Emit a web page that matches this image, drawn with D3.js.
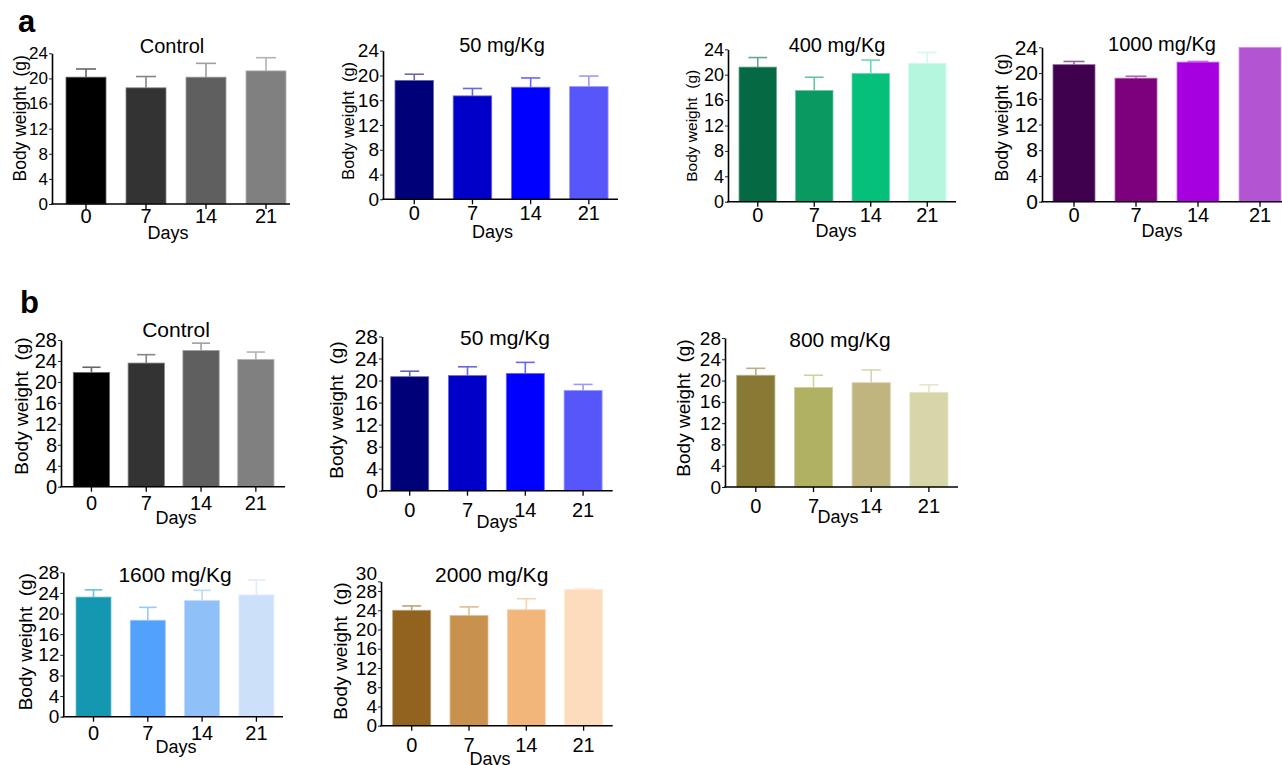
<!DOCTYPE html>
<html>
<head>
<meta charset="utf-8">
<script src="https://cdn.jsdelivr.net/npm/d3@7/dist/d3.min.js"></script>
<style>
  html, body { margin: 0; padding: 0; background: #fff; }
  svg { display: block; font-family: "Liberation Sans", Arial, sans-serif; }
</style>
</head>
<body>
<script>
// ---------------- DATA ----------------
const days = ["0", "7", "14", "21"];
const titles = ["Control", "50 mg/Kg", "400 mg/Kg", "1000 mg/Kg",
                "Control", "50 mg/Kg", "800 mg/Kg", "1600 mg/Kg", "2000 mg/Kg"];

// study a (means / SD, g)
const aControlMean = [20.2, 18.5, 20.2, 21.2];
const aControlSD   = [1.3, 1.8, 2.2, 2.1];
const a50Mean      = [19.2, 16.7, 18.1, 18.2];
const a50SD        = [1.0, 1.2, 1.5, 1.7];
const a400Mean     = [21.2, 17.5, 20.2, 21.8];
const a400SD       = [1.5, 2.1, 2.1, 1.7];
const a1000Mean    = [21.3, 19.2, 21.7, 24.0];
const a1000SD      = [0.5, 0.3, 0.1, 0.0];

// study b
const bControlMean = [21.8, 23.6, 26.0, 24.3];
const bControlSD   = [1.0, 1.6, 1.4, 1.4];
const b50Mean      = [20.7, 20.9, 21.3, 18.2];
const b50SD        = [1.0, 1.6, 2.0, 1.1];
const b800Mean     = [21.0, 18.7, 19.6, 17.8];
const b800SD       = [1.3, 2.3, 2.4, 1.4];
const b1600Mean    = [23.2, 18.7, 22.5, 23.6];
const b1600SD      = [1.4, 2.5, 2.0, 2.9];
const b2000Mean    = [24.0, 22.9, 24.1, 28.3];
const b2000SD      = [0.9, 1.8, 2.3, 0.2];

// y axis tick labels
const ticks24 = [0, 4, 8, 12, 16, 20, 24];
const ticks28 = [0, 4, 8, 12, 16, 20, 24, 28];
const ticks30 = [0, 4, 8, 12, 16, 20, 24, 28, 30];
const yMaxes  = [24, 24, 24, 24, 28, 28, 28, 28, 30];

// colours
const colControl = ["#000000", "#333333", "#5f5f5f", "#808080"];
const colBlue    = ["#000078", "#0000c8", "#0000ff", "#5656fb"];
const colGreen   = ["#056a43", "#099a61", "#04c07a", "#b5f7de"];
const colPurple  = ["#3f004e", "#7d007c", "#a700e0", "#b354d3"];
const colOlive   = ["#887a35", "#b0b162", "#c0b57e", "#d7d6a9"];
const colSky     = ["#1497b1", "#52a2fb", "#8fc0f8", "#cde0f9"];
const colBrown   = ["#92621f", "#c8924e", "#f2b67a", "#fddcbd"];

const means  = [aControlMean, a50Mean, a400Mean, a1000Mean, bControlMean, b50Mean, b800Mean, b1600Mean, b2000Mean];
const sds    = [aControlSD, a50SD, a400SD, a1000SD, bControlSD, b50SD, b800SD, b1600SD, b2000SD];
const colors = [colControl, colBlue, colGreen, colPurple, colControl, colBlue, colOlive, colSky, colBrown];
const tickSets = [ticks24, ticks24, ticks24, ticks24, ticks28, ticks28, ticks28, ticks28, ticks30];

// ---------------- LAYOUT (pixels) ----------------
const layout = [
  {ax: 52,   y0: 204,   yTop: 53.3,  xEnd: 290,   bx: 66,    step: 60,   bw: 40,   tx: 172,   ty: 52.7,  tfs: 20, dx: 168,   dy: 239.3, xlb: 222.7, lx: 26,    ly: 118.3, lfs: 17.5, yfs: 17},
  {ax: 383,  y0: 199.3, yTop: 50.7,  xEnd: 618,   bx: 395,   step: 58.2, bw: 38.5, tx: 502,   ty: 51.7,  tfs: 20, dx: 492.5, dy: 238.3, xlb: 220,   lx: 354,   ly: 120.8, lfs: 16.3, yfs: 19},
  {ax: 728,  y0: 201.7, yTop: 49.3,  xEnd: 956,   bx: 739,   step: 56.5, bw: 37.5, tx: 837,   ty: 51.7,  tfs: 20, dx: 836,   dy: 237.3, xlb: 221.7, lx: 697.3, ly: 125.8, lfs: 15.5, yfs: 18},
  {ax: 1042, y0: 201.7, yTop: 47.3,  xEnd: 1290,  bx: 1053,  step: 62,   bw: 42,   tx: 1162,  ty: 50.7,  tfs: 20, dx: 1162,  dy: 236.7, xlb: 221.7, lx: 1008,  ly: 117.5, lfs: 17.7, yfs: 21},
  {ax: 61,   y0: 486.7, yTop: 340,   xEnd: 285,   bx: 73.3,  step: 54.8, bw: 36.3, tx: 176,   ty: 336.7, tfs: 21, dx: 176,   dy: 524,   xlb: 510,   lx: 28.3,  ly: 406,   lfs: 19,   yfs: 20},
  {ax: 382,  y0: 490.7, yTop: 336.5, xEnd: 612.7, bx: 390.7, step: 57.8, bw: 38,   tx: 505,   ty: 345,   tfs: 21, dx: 497,   dy: 528,   xlb: 516.7, lx: 343,   ly: 410,   lfs: 19,   yfs: 21},
  {ax: 725,  y0: 487,   yTop: 338,   xEnd: 958,   bx: 736.7, step: 57.7, bw: 38.2, tx: 840,   ty: 346.7, tfs: 21, dx: 838,   dy: 523,   xlb: 513,   lx: 690,   ly: 408,   lfs: 19,   yfs: 19},
  {ax: 63.3, y0: 716.7, yTop: 572.3, xEnd: 283,   bx: 76,    step: 54.3, bw: 35,   tx: 175,   ty: 581.7, tfs: 21, dx: 176,   dy: 753,   xlb: 740,   lx: 31.7,  ly: 641.7, lfs: 19,   yfs: 19},
  {ax: 381,  y0: 725.7, yTop: 581.4, xEnd: 612.7, bx: 392.7, step: 57.3, bw: 38,   tx: 491.7, ty: 581.7, tfs: 21, dx: 490,   dy: 764.6, xlb: 751.7, lx: 346.7, ly: 651,   lfs: 19,   yfs: 19}
];

const W = 1282, H = 765;
const svg = d3.select("body").append("svg").attr("width", W).attr("height", H);

// panel letters
svg.append("text").attr("x", 18).attr("y", 32).attr("font-size", 31).attr("font-weight", "bold").text("a");
svg.append("text").attr("x", 20).attr("y", 313).attr("font-size", 31).attr("font-weight", "bold").text("b");

means.forEach((mean, i) => {
  const L = layout[i];
  const sd = sds[i];
  const col = colors[i];
  const gap = L.step - L.bw;
  const x = d3.scaleBand().domain(days)
    .range([L.bx - gap / 2, L.bx - gap / 2 + 4 * L.step])
    .paddingInner(gap / L.step).paddingOuter(gap / L.step / 2);
  const y = d3.scaleLinear().domain([0, yMaxes[i]]).range([L.y0, L.yTop]);
  const g = svg.append("g");
  const light = c => d3.interpolateRgb(c, "#ffffff")(0.4);

  // error bars (upper only)
  const eb = g.append("g");
  mean.forEach((m, j) => {
    if (sd[j] <= 0) return;
    const cx = x(days[j]) + x.bandwidth() / 2;
    const c = light(col[j]);
    eb.append("line").attr("x1", cx).attr("x2", cx).attr("y1", y(m)).attr("y2", y(m + sd[j]))
      .attr("stroke", c).attr("stroke-width", 1.6);
    eb.append("line").attr("x1", cx - x.bandwidth() / 4).attr("x2", cx + x.bandwidth() / 4)
      .attr("y1", y(m + sd[j])).attr("y2", y(m + sd[j]))
      .attr("stroke", c).attr("stroke-width", 1.6);
  });

  // bars
  g.selectAll("rect.bar").data(mean).join("rect")
    .attr("class", "bar")
    .attr("x", (d, j) => x(days[j]))
    .attr("y", d => y(d))
    .attr("width", x.bandwidth())
    .attr("height", d => y(0) - y(d))
    .attr("fill", (d, j) => col[j])
    .attr("stroke", (d, j) => light(col[j]))
    .attr("stroke-width", 0.8);

  // y axis
  const yAxis = d3.axisLeft(y).tickValues(tickSets[i]).tickSizeInner(3).tickSizeOuter(0).tickPadding(1);
  const yg = g.append("g").attr("transform", `translate(${L.ax},0)`).call(yAxis);
  yg.select(".domain").attr("stroke", "#000").attr("stroke-width", 1.6);
  yg.selectAll(".tick line").attr("stroke", "#222").attr("stroke-width", 1);
  yg.selectAll(".tick text").attr("font-size", L.yfs).attr("fill", "#000")
    .attr("font-family", "Liberation Sans, Arial, sans-serif");
  // top label of a 0-30 axis sits a little higher, as in the original figure
  yg.selectAll(".tick").filter(d => d === 30).select("text").attr("y", -8);

  // x axis
  const xfs = 20;
  const xtick = 5;
  const xAxis = d3.axisBottom(x).tickSizeInner(xtick).tickSizeOuter(0)
    .tickPadding(L.xlb - L.y0 - xtick - 0.71 * xfs);
  const xg = g.append("g").attr("transform", `translate(0,${L.y0})`).call(xAxis);
  xg.select(".domain").remove();
  xg.selectAll(".tick line").attr("stroke", "#000").attr("stroke-width", 1.3);
  xg.selectAll(".tick text").attr("font-size", xfs).attr("fill", "#000")
    .attr("font-family", "Liberation Sans, Arial, sans-serif");
  g.append("line").attr("x1", L.ax - 0.8).attr("x2", L.xEnd).attr("y1", L.y0).attr("y2", L.y0)
    .attr("stroke", "#000").attr("stroke-width", 1.6);

  // title
  g.append("text").attr("x", L.tx).attr("y", L.ty).attr("text-anchor", "middle")
    .attr("font-size", L.tfs).text(titles[i]);
  // x label
  g.append("text").attr("x", L.dx).attr("y", L.dy).attr("text-anchor", "middle")
    .attr("font-size", 18).text("Days");
  // y label
  g.append("text").attr("transform", `translate(${L.lx},${L.ly}) rotate(-90)`)
    .attr("text-anchor", "middle").attr("font-size", L.lfs)
    .attr("xml:space", "preserve").style("white-space", "pre")
    .text("Body weight  (g)");
});
</script>
</body>
</html>
